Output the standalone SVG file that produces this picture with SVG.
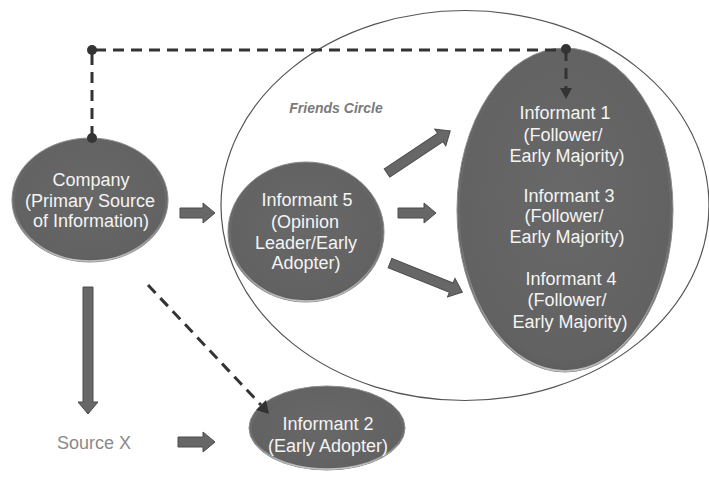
<svg xmlns="http://www.w3.org/2000/svg" width="709" height="480" viewBox="0 0 709 480">
  <style>
    .node { fill: url(#nodeFill); stroke: #8c8c8c; stroke-width: 1; }
    .rim { fill: none; stroke: url(#rimGlow); stroke-width: 1.5; }
    .label { font-family: "Liberation Sans", Arial, sans-serif; font-size: 18px; fill: #f4f4f4; text-anchor: middle; }
    .block { fill: #676767; stroke: #4d4d4d; stroke-width: 1; }
    .dash { fill: none; stroke: #333333; stroke-width: 3; stroke-dasharray: 11 7; }
    .dot { fill: #333333; }
    .head { fill: #333333; }
  </style>
  <defs>
    <radialGradient id="nodeFill" cx="0.5" cy="0.45" r="0.6">
      <stop offset="0" stop-color="#686868"/>
      <stop offset="0.85" stop-color="#626262"/>
      <stop offset="1" stop-color="#575757"/>
    </radialGradient>
    <linearGradient id="rimGlow" x1="0" y1="0" x2="0" y2="1">
      <stop offset="0" stop-color="#ffffff" stop-opacity="0"/>
      <stop offset="0.6" stop-color="#ffffff" stop-opacity="0.08"/>
      <stop offset="1" stop-color="#ffffff" stop-opacity="0.6"/>
    </linearGradient>
  </defs>

  <!-- friends circle boundary -->
  <g id="friends-circle">
    <ellipse cx="465" cy="205.5" rx="244" ry="195" fill="none" stroke="#555555" stroke-width="1.2"/>
    <text x="336" y="113" font-family="Liberation Sans, Arial, sans-serif" font-size="14" font-style="italic" font-weight="bold" fill="#7a7a7a" text-anchor="middle">Friends Circle</text>
  </g>

  <g id="company">
    <ellipse class="node" cx="90" cy="200" rx="78" ry="62"/>
    <ellipse class="rim" cx="90" cy="201" rx="76" ry="60"/>
    <text class="label" x="91" y="186">Company</text>
    <text class="label" x="90" y="207">(Primary Source</text>
    <text class="label" x="91" y="227">of Information)</text>
  </g>

  <g id="informant5">
    <ellipse class="node" cx="306" cy="232" rx="78" ry="70"/>
    <ellipse class="rim" cx="306" cy="233" rx="76" ry="68"/>
    <text class="label" x="307" y="206">Informant 5</text>
    <text class="label" x="305" y="228">(Opinion</text>
    <text class="label" x="306" y="249">Leader/Early</text>
    <text class="label" x="306" y="269">Adopter)</text>
  </g>

  <g id="informants134">
    <ellipse class="node" cx="565" cy="210" rx="108" ry="162"/>
    <ellipse class="rim" cx="565" cy="211" rx="106" ry="160"/>
    <text class="label" x="565" y="119">Informant 1</text>
    <text class="label" x="563" y="141">(Follower/</text>
    <text class="label" x="567" y="162">Early Majority)</text>
    <text class="label" x="569" y="202">Informant 3</text>
    <text class="label" x="564" y="222">(Follower/</text>
    <text class="label" x="567" y="243">Early Majority)</text>
    <text class="label" x="571" y="285">Informant 4</text>
    <text class="label" x="567" y="306">(Follower/</text>
    <text class="label" x="570" y="328">Early Majority)</text>
  </g>

  <g id="informant2">
    <ellipse class="node" cx="327" cy="428" rx="78" ry="42"/>
    <ellipse class="rim" cx="327" cy="429" rx="76" ry="40"/>
    <text class="label" x="328" y="430">Informant 2</text>
    <text class="label" x="328" y="452">(Early Adopter)</text>
  </g>

  <g id="source-x">
    <text x="94" y="449" font-family="Liberation Sans, Arial, sans-serif" font-size="18" fill="#8a8a8a" text-anchor="middle">Source X</text>
  </g>

  <!-- connectors -->
  <g id="connectors">
    <!-- dashed link company -> informants 1/3/4 -->
    <path class="dash" d="M92,137 V50 H566"/>
    <path class="dash" d="M566,50 V88" stroke-dasharray="9 6"/>
    <polygon class="head" points="560,88 572,88 566,99"/>
    <circle class="dot" cx="92" cy="50" r="5"/>
    <circle class="dot" cx="92" cy="138" r="5"/>
    <circle class="dot" cx="566" cy="49" r="5"/>
    <!-- dashed link company -> informant 2 -->
    <path class="dash" d="M148,285 L261,405"/>
    <polygon class="head" points="256,410 266,400 269,414"/>

    <!-- block arrows -->
    <path class="block" transform="translate(180,213)" d="M0,-5 H23 V-10 L35,0 L23,10 V5 H0 Z"/>
    <path class="block" transform="translate(387,173) rotate(-33.7)" d="M0,-5 H64 V-10 L76,0 L64,10 V5 H0 Z"/>
    <path class="block" transform="translate(398,213)" d="M0,-5 H26 V-10 L38,0 L26,10 V5 H0 Z"/>
    <path class="block" transform="translate(390,263) rotate(21.9)" d="M0,-5 H66 V-10 L78,0 L66,10 V5 H0 Z"/>
    <path class="block" transform="translate(88,287) rotate(90)" d="M0,-5 H115 V-10 L127,0 L115,10 V5 H0 Z"/>
    <path class="block" transform="translate(178,442)" d="M0,-5 H25 V-10 L37,0 L25,10 V5 H0 Z"/>
  </g>
</svg>
